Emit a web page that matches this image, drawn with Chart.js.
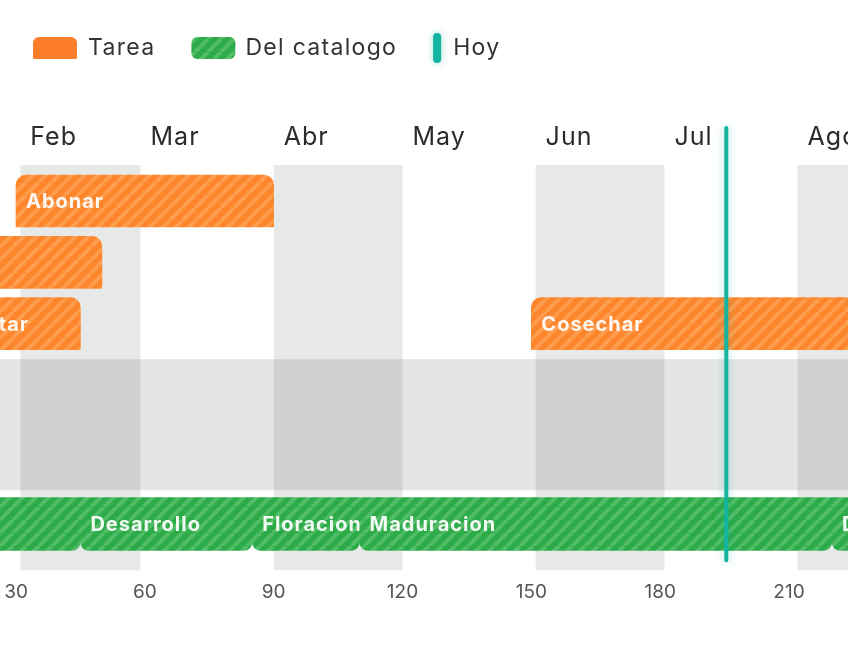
<!DOCTYPE html>
<html>
<head>
<meta charset="utf-8">
<script src="https://cdn.jsdelivr.net/npm/chart.js@4/dist/chart.umd.min.js"></script>
<style>
  html, body { margin: 0; padding: 0; background: #fff; overflow: hidden; }
  #wrap { width: 848px; height: 648px; }
</style>
</head>
<body>
<div id="wrap"><canvas id="chart"></canvas></div>
<script>
const FONT = "Inter, 'Open Sans', sans-serif";

// months (day of year where each month starts)
const monthNames = ["Ene","Feb","Mar","Abr","May","Jun","Jul","Ago","Sep","Oct","Nov","Dic"];
const monthStart = [0,31,59,90,120,151,181,212,243,273,304,334];
const xTicks = [30,60,90,120,150,180,210];

// tareas
const taskNames = ["Abonar","Sembrar","Trasplantar","Cosechar"];
const taskRow   = [0,1,2,2];
const taskStart = [30,0,2,150];
const taskEnd   = [90,50,45,240];

// fases del catalogo
const phaseNames = ["Siembra","Desarrollo","Floracion","Maduracion","Descanso"];
const phaseStart = [0,45,85,110,220];
const phaseEnd   = [45,85,110,220,260];
const phaseRow = 5.27;

// empty area between tasks and catalogue
const emptyFrom = 2.58, emptyTo = 4.72;

const today = 195.4;

const ORANGE = "#fd862c", ORANGE_LIGHT = "#ff9d4f";
const GREEN = "#2dab48", GREEN_LIGHT = "#52bd68";
const TEAL = "#13b5a0";

function stripes(base, light) {
  const s = 13;
  const c = document.createElement("canvas");
  c.width = s; c.height = s;
  const g = c.getContext("2d");
  g.fillStyle = base;
  g.fillRect(0, 0, s, s);
  g.strokeStyle = light;
  g.lineWidth = 4;
  for (const k of [-s, 0, s]) {
    g.beginPath();
    g.moveTo(k, s);
    g.lineTo(k + s, 0);
    g.stroke();
  }
  return g.createPattern(c, "repeat");
}
const orangeFill = stripes(ORANGE, ORANGE_LIGHT);
const greenFill = stripes(GREEN, GREEN_LIGHT);

function roundRect(ctx, x, y, w, h, r) {
  ctx.beginPath();
  ctx.roundRect(x, y, w, h, r);
}

const backdrop = {
  id: "backdrop",
  beforeDatasetsDraw(chart) {
    const {ctx, chartArea: a, scales: {x, y}} = chart;
    ctx.save();
    ctx.fillStyle = "rgba(0,0,0,0.1)";
    const y1 = y.getPixelForValue(emptyFrom), y2 = y.getPixelForValue(emptyTo);
    ctx.fillRect(a.left, y1, a.right - a.left, y2 - y1);
    ctx.fillStyle = "rgba(20,40,40,0.1)";
    monthStart.forEach((m, i) => {
      if (i % 2 === 0) return;
      const end = i < 11 ? monthStart[i + 1] : 365;
      const p1 = x.getPixelForValue(m), p2 = x.getPixelForValue(end);
      ctx.fillRect(p1, a.top, p2 - p1, a.bottom - a.top);
    });
    ctx.restore();
  },
  afterDraw(chart) {
    const {ctx, scales: {x}} = chart;
    ctx.save();
    // month names
    ctx.font = "25px " + FONT;
    ctx.letterSpacing = "1px";
    ctx.fillStyle = "#2b2b2b";
    ctx.textBaseline = "middle";
    monthStart.forEach((m, i) => {
      ctx.fillText(monthNames[i], x.getPixelForValue(m) + 10, 137);
    });
    // legend
    const items = [
      {text: "Tarea", w: 44, gap: 11},
      {text: "Del catalogo", w: 44, gap: 10},
      {text: "Hoy", w: 8, gap: 12}
    ];
    ctx.font = "23px " + FONT;
    ctx.letterSpacing = "1.3px";
    let lx = 33;
    items.forEach((it, i) => {
      if (i === 0) {
        ctx.fillStyle = "#fd7e2a";
        roundRect(ctx, lx, 37, it.w, 22, [6, 6, 1, 1]);
        ctx.fill();
      } else if (i === 1) {
        ctx.fillStyle = greenFill;
        roundRect(ctx, lx, 37, it.w, 22, 6);
        ctx.fill();
      } else {
        ctx.save();
        ctx.shadowColor = "rgba(19,181,160,0.45)";
        ctx.shadowBlur = 6;
        ctx.fillStyle = TEAL;
        roundRect(ctx, lx, 33, it.w, 30, 4);
        ctx.fill();
        ctx.restore();
      }
      ctx.fillStyle = "#333";
      ctx.fillText(it.text, lx + it.w + it.gap, 48);
      lx += it.w + it.gap + ctx.measureText(it.text).width + 36;
    });
    ctx.restore();
  }
};

const barLabels = {
  id: "barLabels",
  afterDatasetsDraw(chart) {
    const {ctx, chartArea: a, scales: {x}} = chart;
    const names = [taskNames, phaseNames];
    ctx.save();
    ctx.font = "bold 20px " + FONT;
    ctx.letterSpacing = "1px";
    ctx.fillStyle = "rgba(255,255,255,0.93)";
    ctx.textBaseline = "middle";
    [0, 1].forEach(d => {
      chart.getDatasetMeta(d).data.forEach((bar, i) => {
        const left = Math.min(bar.x, bar.base), right = Math.max(bar.x, bar.base);
        const top = bar.y - bar.height / 2;
        ctx.save();
        ctx.beginPath();
        const cl = Math.max(left, a.left), cr = Math.min(right, a.right);
        ctx.rect(cl, top, cr - cl, bar.height);
        ctx.clip();
        ctx.fillText(names[d][i], left + 10, bar.y + 1);
        ctx.restore();
      });
    });
    // today line
    const tx = x.getPixelForValue(today);
    ctx.shadowColor = "rgba(19,181,160,0.4)";
    ctx.shadowBlur = 8;
    ctx.strokeStyle = TEAL;
    ctx.lineWidth = 4;
    ctx.lineCap = "round";
    ctx.beginPath();
    ctx.moveTo(tx, a.top - 37);
    ctx.lineTo(tx, a.bottom - 10);
    ctx.stroke();
    ctx.restore();
  }
};

new Chart(document.getElementById("chart"), {
  type: "bar",
  data: {
    datasets: [
      {
        label: "Tarea",
        data: taskNames.map((n, i) => ({x: [taskStart[i], taskEnd[i]], y: taskRow[i]})),
        backgroundColor: orangeFill,
        borderSkipped: false,
        borderRadius: {topLeft: 10, topRight: 10, bottomLeft: 0, bottomRight: 0},
        barThickness: 52,
        grouped: false
      },
      {
        label: "Del catalogo",
        data: phaseNames.map((n, i) => ({x: [phaseStart[i], phaseEnd[i]], y: phaseRow})),
        backgroundColor: greenFill,
        borderSkipped: false,
        borderRadius: {topLeft: 0, topRight: 0, bottomLeft: 9, bottomRight: 9},
        barThickness: 53,
        grouped: false
      }
    ]
  },
  options: {
    indexAxis: "y",
    responsive: true,
    maintainAspectRatio: false,
    animation: false,
    layout: { padding: { top: 165, bottom: 33, left: 0, right: 0 } },
    plugins: { legend: { display: false }, tooltip: { enabled: false } },
    scales: {
      x: {
        type: "linear",
        min: 26.274, max: 223.74,
        afterBuildTicks: s => { s.ticks = xTicks.map(v => ({value: v})); },
        afterFit: s => { s.paddingLeft = 0; s.paddingRight = 0; },
        ticks: { color: "#555", font: { family: FONT, size: 19 }, padding: 11, maxRotation: 0, autoSkip: false },
        grid: { display: false, drawTicks: false },
        border: { display: false }
      },
      y: {
        type: "linear",
        display: false,
        reverse: true,
        offset: false,
        min: -0.588, max: 6.024
      }
    }
  },
  plugins: [backdrop, barLabels]
});
</script>
</body>
</html>
